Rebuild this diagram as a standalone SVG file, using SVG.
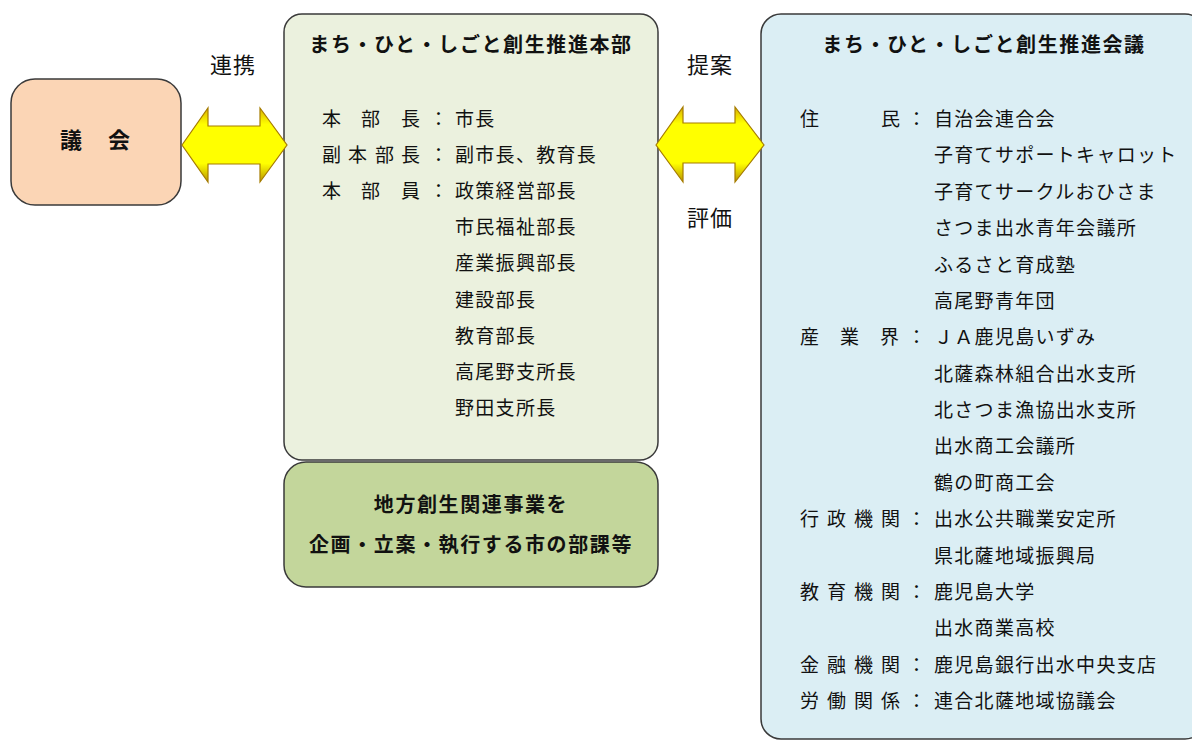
<svg xmlns="http://www.w3.org/2000/svg" width="1192" height="740" viewBox="0 0 1192 740">
<style>
text{font-family:"Noto Sans CJK JP","Noto Sans CJK SC",sans-serif;fill:#111;}
.box{stroke:#3a3a3a;stroke-width:1.5;}
.t{font-size:19px;letter-spacing:1.3px;}
.h{font-size:20px;font-weight:bold;letter-spacing:1.6px;text-anchor:middle;}
.lbl{font-size:22px;letter-spacing:1px;text-anchor:middle;}
.arrow{fill:url(#gold);stroke:#a67c00;stroke-width:1.2;stroke-linejoin:miter;}
</style>
<defs>
<linearGradient id="gold" x1="0" y1="0" x2="0" y2="1">
<stop offset="0" stop-color="#d9b000"/>
<stop offset="0.22" stop-color="#ffff00"/>
<stop offset="0.75" stop-color="#ffff00"/>
<stop offset="1" stop-color="#b89400"/>
</linearGradient>
</defs>
<rect width="1192" height="740" fill="#ffffff"/>

<g id="gikai">
<rect class="box" x="11" y="79" width="170" height="126" rx="24" fill="#fbd5b5"/>
<text x="60 108" y="148" style="font-size:22px;font-weight:bold;">議会</text>
</g>

<g id="honbu">
<rect class="box" x="284" y="14" width="374" height="446" rx="18" fill="#ebf1de"/>
<text class="h" x="471" y="52">まち・ひと・しごと創生推進本部</text>
<text class="t" x="322 361 401 429" y="126">本部長：</text>
<text class="t" x="455" y="126">市長</text>
<text class="t" x="322 348 375 401 429" y="162">副本部長：</text>
<text class="t" x="455" y="162">副市長、教育長</text>
<text class="t" x="322 361 401 429" y="198">本部員：</text>
<text class="t" x="455" y="198">政策経営部長</text>
<text class="t" x="455" y="234">市民福祉部長</text>
<text class="t" x="455" y="270">産業振興部長</text>
<text class="t" x="455" y="307">建設部長</text>
<text class="t" x="455" y="343">教育部長</text>
<text class="t" x="455" y="379">高尾野支所長</text>
<text class="t" x="455" y="415">野田支所長</text>
</g>

<g id="kaka">
<rect class="box" x="284" y="462" width="374" height="125" rx="22" fill="#c3d69b"/>
<text class="h" x="471" y="512">地方創生関連事業を</text>
<text class="h" x="471" y="552">企画・立案・執行する市の部課等</text>
</g>

<g id="kaigi">
<rect class="box" x="761" y="14" width="444" height="725" rx="20" fill="#dbeef4"/>
<text class="h" x="984" y="52">まち・ひと・しごと創生推進会議</text>
<text class="t" x="800 881 907" y="126">住民：</text>
<text class="t" x="934" y="126">自治会連合会</text>
<text class="t" x="934" y="162">子育てサポートキャロット</text>
<text class="t" x="934" y="199">子育てサークルおひさま</text>
<text class="t" x="934" y="235">さつま出水青年会議所</text>
<text class="t" x="934" y="272">ふるさと育成塾</text>
<text class="t" x="934" y="308">高尾野青年団</text>
<text class="t" x="800 840 880 907" y="344">産業界：</text>
<text class="t" x="934" y="344">ＪＡ鹿児島いずみ</text>
<text class="t" x="934" y="381">北薩森林組合出水支所</text>
<text class="t" x="934" y="417">北さつま漁協出水支所</text>
<text class="t" x="934" y="453">出水商工会議所</text>
<text class="t" x="934" y="490">鶴の町商工会</text>
<text class="t" x="800 827 854 881 907" y="526">行政機関：</text>
<text class="t" x="934" y="526">出水公共職業安定所</text>
<text class="t" x="934" y="563">県北薩地域振興局</text>
<text class="t" x="800 827 854 881 907" y="599">教育機関：</text>
<text class="t" x="934" y="599">鹿児島大学</text>
<text class="t" x="934" y="635">出水商業高校</text>
<text class="t" x="800 827 854 881 907" y="672">金融機関：</text>
<text class="t" x="934" y="672">鹿児島銀行出水中央支店</text>
<text class="t" x="800 827 854 881 907" y="708">労働関係：</text>
<text class="t" x="934" y="708">連合北薩地域協議会</text>
</g>

<g id="connectors">
<polygon class="arrow" points="182,145 208,108 208,126 260,126 260,108 287,145 260,182 260,164 208,164 208,182"/>
<polygon class="arrow" points="656,145 683,107 683,123 735,123 735,107 764,145 735,182 735,163 683,163 683,182"/>
<text class="lbl" x="233" y="73">連携</text>
<text class="lbl" x="710" y="73">提案</text>
<text class="lbl" x="710" y="226">評価</text>
</g>
</svg>
